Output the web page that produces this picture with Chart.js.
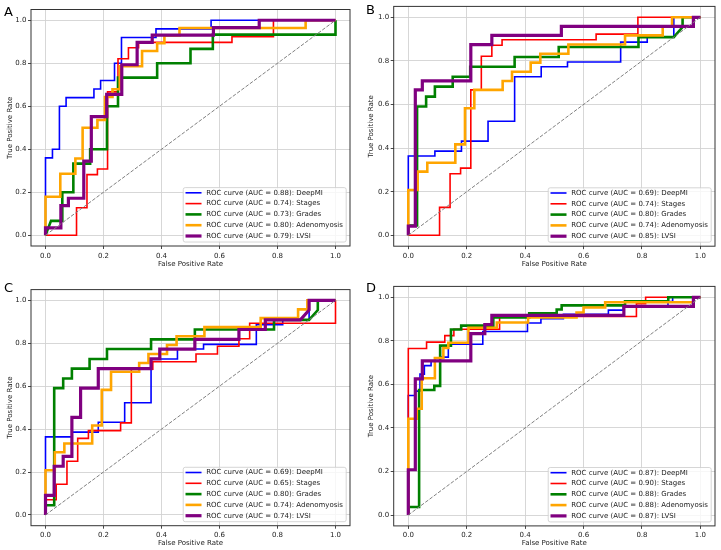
<!DOCTYPE html>
<html>
<head>
<meta charset="utf-8">
<script src="https://cdn.jsdelivr.net/npm/chart.js@4.4.0/dist/chart.umd.min.js"></script>
<style>
  body { margin: 0; background: #fff; }
  #fig { position: relative; width: 721px; height: 550px; overflow: hidden; background: #fff; }
  #fig canvas { position: absolute; }
  .tag { position: absolute; font: 13px/13px "DejaVu Sans", sans-serif; color: #000; }
</style>
</head>
<body>
<div id="fig">
  <canvas id="cA" width="360" height="275" style="left:0;top:0"></canvas>
  <canvas id="cB" width="361" height="275" style="left:360px;top:0"></canvas>
  <canvas id="cC" width="360" height="275" style="left:0;top:275px"></canvas>
  <canvas id="cD" width="361" height="275" style="left:360px;top:275px"></canvas>
  <div class="tag" style="left:4px;top:5px">A</div>
  <div class="tag" style="left:366px;top:3px">B</div>
  <div class="tag" style="left:4px;top:281px">C</div>
  <div class="tag" style="left:366px;top:281px">D</div>
</div>
<script>
// Series names and AUC per panel
const seriesNames = ['DeepMI', 'Stages', 'Grades', 'Adenomyosis', 'LVSI'];
const aucA = ['0.88', '0.74', '0.73', '0.80', '0.79'];
const aucB = ['0.69', '0.74', '0.80', '0.74', '0.85'];
const aucC = ['0.69', '0.65', '0.80', '0.74', '0.74'];
const aucD = ['0.87', '0.90', '0.88', '0.88', '0.87'];

const tickValues = [0, 0.2, 0.4, 0.6, 0.8, 1.0];
const tickLabels = ['0.0', '0.2', '0.4', '0.6', '0.8', '1.0'];
const diagFpr = [0, 1];
const diagTpr = [0, 1];

// Panel A
const aDeepFpr = [0, 0, 0.024, 0.024, 0.048, 0.048, 0.071, 0.071, 0.167, 0.167, 0.19, 0.19, 0.238, 0.238, 0.262, 0.262, 0.381, 0.381, 0.571, 0.571, 1.0];
const aDeepTpr = [0, 0.36, 0.36, 0.40, 0.40, 0.60, 0.60, 0.64, 0.64, 0.68, 0.68, 0.72, 0.72, 0.80, 0.80, 0.92, 0.92, 0.96, 0.96, 1.0, 1.0];
const aStageFpr = [0, 0.107, 0.107, 0.143, 0.143, 0.179, 0.179, 0.214, 0.214, 0.25, 0.25, 0.286, 0.286, 0.321, 0.321, 0.643, 0.643, 0.786, 0.786, 1.0];
const aStageTpr = [0, 0, 0.128, 0.128, 0.282, 0.282, 0.308, 0.308, 0.667, 0.667, 0.821, 0.821, 0.872, 0.872, 0.897, 0.897, 0.923, 0.923, 1.0, 1.0];
const aGradeFpr = [0, 0.019, 0.058, 0.058, 0.096, 0.096, 0.154, 0.154, 0.212, 0.212, 0.25, 0.25, 0.385, 0.385, 0.5, 0.5, 0.577, 0.577, 1.0, 1.0];
const aGradeTpr = [0, 0.067, 0.067, 0.2, 0.2, 0.333, 0.333, 0.4, 0.4, 0.6, 0.6, 0.733, 0.733, 0.8, 0.8, 0.867, 0.867, 0.933, 0.933, 1.0];
const aAdenoFpr = [0, 0, 0.051, 0.051, 0.103, 0.103, 0.128, 0.128, 0.179, 0.179, 0.205, 0.205, 0.231, 0.231, 0.256, 0.256, 0.333, 0.333, 0.385, 0.385, 0.41, 0.41, 0.462, 0.462, 0.897, 0.897, 1.0];
const aAdenoTpr = [0, 0.179, 0.179, 0.286, 0.286, 0.357, 0.357, 0.5, 0.5, 0.536, 0.536, 0.643, 0.643, 0.679, 0.679, 0.786, 0.786, 0.857, 0.857, 0.893, 0.893, 0.929, 0.929, 0.964, 0.964, 1.0, 1.0];
const aLvsiFpr = [0, 0, 0.053, 0.053, 0.079, 0.079, 0.132, 0.132, 0.158, 0.158, 0.211, 0.211, 0.263, 0.263, 0.316, 0.316, 0.368, 0.368, 0.579, 0.579, 0.737, 0.737, 1.0];
const aLvsiTpr = [0, 0.034, 0.034, 0.138, 0.138, 0.172, 0.172, 0.345, 0.345, 0.552, 0.552, 0.655, 0.655, 0.793, 0.793, 0.897, 0.897, 0.931, 0.931, 0.966, 0.966, 1.0, 1.0];

// Panel B
const bDeepFpr = [0, 0, 0.091, 0.091, 0.182, 0.182, 0.273, 0.273, 0.364, 0.364, 0.455, 0.455, 0.545, 0.545, 0.727, 0.727, 0.818, 0.818, 0.909, 0.909, 1.0];
const bDeepTpr = [0, 0.364, 0.364, 0.386, 0.386, 0.432, 0.432, 0.523, 0.523, 0.727, 0.727, 0.773, 0.773, 0.795, 0.795, 0.886, 0.886, 0.909, 0.909, 1.0, 1.0];
const bStageFpr = [0, 0.107, 0.107, 0.143, 0.143, 0.179, 0.179, 0.214, 0.214, 0.25, 0.25, 0.286, 0.286, 0.321, 0.321, 0.643, 0.643, 0.786, 0.786, 1.0];
const bStageTpr = [0, 0, 0.128, 0.128, 0.282, 0.282, 0.308, 0.308, 0.667, 0.667, 0.821, 0.821, 0.872, 0.872, 0.897, 0.897, 0.923, 0.923, 1.0, 1.0];
const bGradeFpr = [0, 0, 0.03, 0.03, 0.061, 0.061, 0.091, 0.091, 0.152, 0.152, 0.212, 0.212, 0.364, 0.364, 0.515, 0.515, 0.788, 0.788, 0.909, 0.939, 0.939, 1.0];
const bGradeTpr = [0, 0.045, 0.045, 0.591, 0.591, 0.636, 0.636, 0.682, 0.682, 0.727, 0.727, 0.773, 0.773, 0.818, 0.818, 0.864, 0.864, 0.909, 0.909, 0.955, 1.0, 1.0];
const bAdenoFpr = [0, 0, 0.032, 0.032, 0.065, 0.065, 0.161, 0.161, 0.194, 0.194, 0.226, 0.226, 0.323, 0.323, 0.355, 0.355, 0.419, 0.419, 0.452, 0.452, 0.548, 0.548, 0.742, 0.742, 0.871, 0.871, 0.903, 0.903, 1.0];
const bAdenoTpr = [0, 0.208, 0.208, 0.292, 0.292, 0.333, 0.333, 0.417, 0.417, 0.583, 0.583, 0.667, 0.667, 0.708, 0.708, 0.75, 0.75, 0.792, 0.792, 0.833, 0.833, 0.875, 0.875, 0.917, 0.917, 0.958, 0.958, 1.0, 1.0];
const bLvsiFpr = [0, 0, 0.024, 0.024, 0.048, 0.048, 0.214, 0.214, 0.286, 0.286, 0.524, 0.524, 0.976, 0.976, 1.0];
const bLvsiTpr = [0, 0.042, 0.042, 0.667, 0.667, 0.708, 0.708, 0.875, 0.875, 0.917, 0.917, 0.958, 0.958, 1.0, 1.0];

// Panel C
const cDeepFpr = [0, 0, 0.091, 0.091, 0.182, 0.182, 0.273, 0.273, 0.364, 0.364, 0.455, 0.455, 0.545, 0.545, 0.727, 0.727, 0.818, 0.818, 0.909, 0.909, 1.0];
const cDeepTpr = [0, 0.364, 0.364, 0.386, 0.386, 0.432, 0.432, 0.523, 0.523, 0.727, 0.727, 0.773, 0.773, 0.795, 0.795, 0.886, 0.886, 0.909, 0.909, 1.0, 1.0];
const cStageFpr = [0, 0, 0.037, 0.037, 0.074, 0.074, 0.111, 0.111, 0.148, 0.148, 0.259, 0.259, 0.296, 0.296, 0.37, 0.37, 0.519, 0.519, 0.593, 0.593, 0.667, 0.667, 0.704, 0.704, 1.0, 1.0];
const cStageTpr = [0, 0.071, 0.071, 0.143, 0.143, 0.25, 0.25, 0.357, 0.357, 0.393, 0.393, 0.429, 0.429, 0.679, 0.679, 0.714, 0.714, 0.75, 0.75, 0.786, 0.786, 0.821, 0.821, 0.893, 0.893, 1.0];
const cGradeFpr = [0, 0, 0.03, 0.03, 0.061, 0.061, 0.091, 0.091, 0.152, 0.152, 0.212, 0.212, 0.364, 0.364, 0.515, 0.515, 0.788, 0.788, 0.909, 0.939, 0.939, 1.0];
const cGradeTpr = [0, 0.045, 0.045, 0.591, 0.591, 0.636, 0.636, 0.682, 0.682, 0.727, 0.727, 0.773, 0.773, 0.818, 0.818, 0.864, 0.864, 0.909, 0.909, 0.955, 1.0, 1.0];
const cAdenoFpr = [0, 0, 0.032, 0.032, 0.065, 0.065, 0.161, 0.161, 0.194, 0.194, 0.226, 0.226, 0.323, 0.323, 0.355, 0.355, 0.419, 0.419, 0.452, 0.452, 0.548, 0.548, 0.742, 0.742, 0.871, 0.871, 0.903, 0.903, 1.0];
const cAdenoTpr = [0, 0.208, 0.208, 0.292, 0.292, 0.333, 0.333, 0.417, 0.417, 0.583, 0.583, 0.667, 0.667, 0.708, 0.708, 0.75, 0.75, 0.792, 0.792, 0.833, 0.833, 0.875, 0.875, 0.917, 0.917, 0.958, 0.958, 1.0, 1.0];
const cLvsiFpr = [0, 0, 0.03, 0.03, 0.061, 0.061, 0.091, 0.091, 0.121, 0.121, 0.182, 0.182, 0.364, 0.364, 0.394, 0.394, 0.515, 0.515, 0.667, 0.667, 0.758, 0.758, 0.879, 0.909, 0.909, 1.0];
const cLvsiTpr = [0, 0.091, 0.091, 0.227, 0.227, 0.273, 0.273, 0.455, 0.455, 0.591, 0.591, 0.682, 0.682, 0.727, 0.727, 0.773, 0.773, 0.818, 0.818, 0.864, 0.864, 0.909, 0.909, 0.955, 1.0, 1.0];

// Panel D
const dDeepFpr = [0, 0, 0.023, 0.023, 0.04, 0.04, 0.055, 0.055, 0.078, 0.078, 0.109, 0.109, 0.137, 0.137, 0.255, 0.255, 0.408, 0.408, 0.454, 0.454, 0.531, 0.531, 0.685, 0.685, 0.736, 0.736, 0.889, 0.889, 0.905, 0.905, 1.0];
const dDeepTpr = [0, 0.549, 0.549, 0.569, 0.569, 0.647, 0.647, 0.686, 0.686, 0.706, 0.706, 0.725, 0.725, 0.784, 0.784, 0.843, 0.843, 0.882, 0.882, 0.902, 0.902, 0.922, 0.922, 0.941, 0.941, 0.961, 0.961, 0.98, 0.98, 1.0, 1.0];
const dStageFpr = [0, 0, 0.0625, 0.0625, 0.125, 0.125, 0.156, 0.156, 0.3125, 0.3125, 0.781, 0.781, 0.8125, 0.8125, 1.0];
const dStageTpr = [0, 0.765, 0.765, 0.794, 0.794, 0.824, 0.824, 0.853, 0.853, 0.912, 0.912, 0.971, 0.971, 1.0, 1.0];
const dGradeFpr = [0, 0, 0.037, 0.037, 0.089, 0.089, 0.109, 0.109, 0.146, 0.146, 0.181, 0.181, 0.291, 0.291, 0.414, 0.414, 0.508, 0.508, 0.525, 0.525, 0.742, 0.742, 0.89, 0.89, 1.0];
const dGradeTpr = [0, 0.037, 0.037, 0.574, 0.574, 0.593, 0.593, 0.778, 0.778, 0.852, 0.852, 0.87, 0.87, 0.907, 0.907, 0.926, 0.926, 0.944, 0.944, 0.963, 0.963, 0.981, 0.981, 1.0, 1.0];
const dAdenoFpr = [0, 0, 0.029, 0.029, 0.046, 0.046, 0.091, 0.091, 0.12, 0.12, 0.137, 0.137, 0.206, 0.206, 0.303, 0.303, 0.41, 0.41, 0.576, 0.576, 0.6, 0.6, 0.674, 0.674, 0.976, 0.976, 1.0];
const dAdenoTpr = [0, 0.442, 0.442, 0.488, 0.488, 0.628, 0.628, 0.721, 0.721, 0.767, 0.767, 0.791, 0.791, 0.86, 0.86, 0.884, 0.884, 0.907, 0.907, 0.93, 0.93, 0.953, 0.953, 0.977, 0.977, 1.0, 1.0];
const dLvsiFpr = [0, 0, 0.024, 0.024, 0.048, 0.048, 0.214, 0.214, 0.262, 0.262, 0.286, 0.286, 0.738, 0.738, 0.976, 0.976, 1.0];
const dLvsiTpr = [0, 0.208, 0.208, 0.625, 0.625, 0.708, 0.708, 0.833, 0.833, 0.875, 0.875, 0.917, 0.917, 0.958, 0.958, 1.0, 1.0];

const FONT = '"DejaVu Sans", sans-serif';
const lineColors = ['#0000ff', '#ff0000', '#008000', '#ffa500', '#800080'];
const lineWidths = [1.6, 1.6, 2.6, 2.6, 3.2];

function pts(xs, ys) {
  return xs.map((x, i) => ({ x: x, y: ys[i] }));
}

// draws the four spines and a matplotlib-like legend in the lower right corner
const frameLegend = {
  id: 'frameLegend',
  afterDraw(chart, args, opts) {
    const ctx = chart.ctx;
    const a = chart.chartArea;
    ctx.save();
    ctx.strokeStyle = '#333';
    ctx.lineWidth = 1;
    ctx.strokeRect(a.left, a.top, a.right - a.left, a.bottom - a.top);

    const labels = opts.labels || [];
    ctx.font = '7px ' + FONT;
    const rowH = 10.8;
    let maxW = 0;
    labels.forEach(t => { maxW = Math.max(maxW, ctx.measureText(t).width); });
    const w = 2.3 + 16 + 4.7 + maxW + 3.3;
    const h = 5.2 + rowH * (labels.length - 1) + 6;
    const x0 = a.right - 3.8 - w;
    const y0 = a.bottom - 4 - h;
    ctx.beginPath();
    if (ctx.roundRect) ctx.roundRect(x0, y0, w, h, 2); else ctx.rect(x0, y0, w, h);
    ctx.fillStyle = 'rgba(255,255,255,0.8)';
    ctx.fill();
    ctx.strokeStyle = '#cccccc';
    ctx.lineWidth = 0.8;
    ctx.stroke();
    labels.forEach((t, i) => {
      const cy = y0 + 5.2 + i * rowH;
      ctx.strokeStyle = lineColors[i];
      ctx.lineWidth = lineWidths[i];
      ctx.beginPath();
      ctx.moveTo(x0 + 2.3, cy);
      ctx.lineTo(x0 + 18.3, cy);
      ctx.stroke();
      ctx.fillStyle = '#222';
      ctx.textBaseline = 'middle';
      ctx.textAlign = 'left';
      ctx.fillText(t, x0 + 23, cy);
    });
    ctx.restore();
  }
};

function makePanel(p) {
  const datasets = p.curves.map((c, i) => ({
    label: seriesNames[i],
    data: pts(c[0], c[1]),
    showLine: true,
    borderColor: lineColors[i],
    borderWidth: lineWidths[i],
    pointRadius: 0,
    tension: 0,
    fill: false,
    order: 5 - i
  }));
  datasets.push({
    label: 'chance',
    data: pts(diagFpr, diagTpr),
    showLine: true,
    borderColor: '#808080',
    borderWidth: 1,
    borderDash: [3.7, 1.6],
    pointRadius: 0,
    order: 0
  });

  const tickFont = { family: FONT, size: 7 };
  const grid = { color: '#d3d3d3', lineWidth: 0.9, tickLength: 3, tickColor: '#333' };

  return new Chart(document.getElementById(p.id), {
    type: 'scatter',
    data: { datasets: datasets },
    plugins: [frameLegend],
    options: {
      responsive: false,
      animation: false,
      layout: { padding: { top: p.top, right: p.right, left: 0, bottom: 0 } },
      plugins: {
        legend: { display: false },
        tooltip: { enabled: false },
        frameLegend: {
          labels: seriesNames.map((n, i) => 'ROC curve (AUC = ' + p.auc[i] + '): ' + n)
        }
      },
      scales: {
        x: {
          type: 'linear', min: -0.05, max: 1.05,
          afterBuildTicks: s => { s.ticks = tickValues.map(v => ({ value: v })); },
          afterFit: s => { s.height = p.xH; },
          ticks: { font: tickFont, color: '#222', padding: 2.5, maxRotation: 0, callback: (v, i) => tickLabels[i] },
          grid: grid,
          border: { display: false },
          title: { display: true, text: 'False Positive Rate', font: tickFont, color: '#222', padding: { top: 0, bottom: p.xTitle } }
        },
        y: {
          type: 'linear', min: -0.05, max: 1.05,
          afterBuildTicks: s => { s.ticks = tickValues.map(v => ({ value: v })); },
          afterFit: s => { s.width = p.yW; },
          ticks: { font: tickFont, color: '#222', padding: 1.5, callback: (v, i) => tickLabels[i] },
          grid: grid,
          border: { display: false },
          title: { display: true, text: 'True Positive Rate', font: tickFont, color: '#222', padding: { top: p.yTitle, bottom: 0 } }
        }
      }
    }
  });
}

makePanel({
  id: 'cA', auc: aucA, top: 9.5, right: 10, yW: 31, xH: 29, xTitle: 6.8, yTitle: 5.5,
  curves: [[aDeepFpr, aDeepTpr], [aStageFpr, aStageTpr], [aGradeFpr, aGradeTpr], [aAdenoFpr, aAdenoTpr], [aLvsiFpr, aLvsiTpr]]
});
makePanel({
  id: 'cB', auc: aucB, top: 6.4, right: 6, yW: 33.7, xH: 28.8, xTitle: 6.8, yTitle: 6.8,
  curves: [[bDeepFpr, bDeepTpr], [bStageFpr, bStageTpr], [bGradeFpr, bGradeTpr], [bAdenoFpr, bAdenoTpr], [bLvsiFpr, bLvsiTpr]]
});
makePanel({
  id: 'cC', auc: aucC, top: 14.6, right: 10, yW: 31, xH: 24.3, xTitle: 3.1, yTitle: 6.1,
  curves: [[cDeepFpr, cDeepTpr], [cStageFpr, cStageTpr], [cGradeFpr, cGradeTpr], [cAdenoFpr, cAdenoTpr], [cLvsiFpr, cLvsiTpr]]
});
makePanel({
  id: 'cD', auc: aucD, top: 11.4, right: 6, yW: 33.7, xH: 24.1, xTitle: 3.1, yTitle: 7,
  curves: [[dDeepFpr, dDeepTpr], [dStageFpr, dStageTpr], [dGradeFpr, dGradeTpr], [dAdenoFpr, dAdenoTpr], [dLvsiFpr, dLvsiTpr]]
});
</script>
</body>
</html>
